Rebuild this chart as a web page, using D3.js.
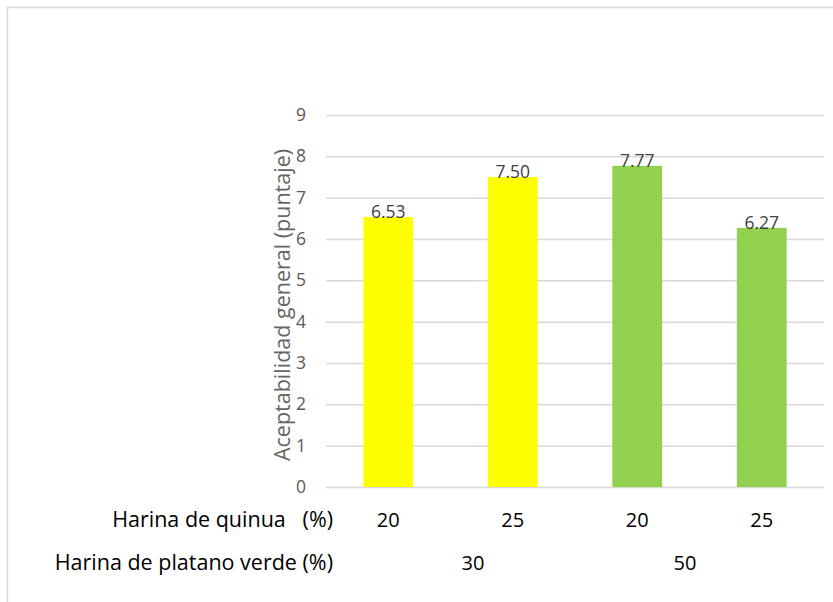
<!DOCTYPE html>
<html>
<head>
<meta charset="utf-8">
<script src="https://cdn.jsdelivr.net/npm/d3@7"></script>
<style>
  html, body { margin: 0; padding: 0; background: #ffffff; }
  svg { display: block; }
</style>
</head>
<body>
<div id="chart"></div>
<script>
// Formulation data: quinoa flour % per bar, green plantain flour % per pair
const bars = ["q20_p30", "q25_p30", "q20_p50", "q25_p50"];
const quinuaLabels = ["20", "25", "20", "25"];
const platanoGroups = ["30", "50"];
const acceptability = [6.53, 7.50, 7.77, 6.27];
const barColors = ["#FFFF00", "#FFFF00", "#92D050", "#92D050"];
const yTicks = [0, 1, 2, 3, 4, 5, 6, 7, 8, 9];

const W = 833, H = 602;
const font = "'Open Sans', sans-serif";
const svg = d3.select("#chart").append("svg")
  .attr("width", W).attr("height", H);

// Outer frame (top and left edges visible)
svg.append("path")
  .attr("d", "M7.5,602 V7.5 H833")
  .attr("fill", "none")
  .attr("stroke", "#d9d9d9")
  .attr("stroke-width", 1.5);

const plot = { left: 326, right: 824, top: 115, bottom: 487 };

const y = d3.scaleLinear().domain([0, 9]).range([plot.bottom, plot.top]);
const x = d3.scaleBand().domain(bars).range([plot.left, plot.right])
  .paddingInner(0.6).paddingOuter(0.3);

// Horizontal gridlines + tick labels
const yAxis = d3.axisLeft(y).tickValues(yTicks)
  .tickSize(-(plot.right - plot.left)).tickPadding(20).tickFormat(d3.format("d"));
const gy = svg.append("g").attr("transform", `translate(${plot.left},0)`).call(yAxis);
gy.select(".domain").remove();
gy.selectAll(".tick line").attr("stroke", "#d9d9d9").attr("stroke-width", 1.5);
gy.selectAll(".tick text")
  .attr("fill", "#595959")
  .style("font-family", font)
  .style("font-size", "17.5px");

// Bars
svg.append("g").selectAll("rect")
  .data(bars)
  .join("rect")
  .attr("x", d => x(d))
  .attr("width", x.bandwidth())
  .attr("y", (d, i) => y(acceptability[i]))
  .attr("height", (d, i) => y(0) - y(acceptability[i]))
  .attr("fill", (d, i) => barColors[i]);

// Value labels
svg.append("g").selectAll("text")
  .data(bars)
  .join("text")
  .attr("x", d => x(d) + x.bandwidth() / 2)
  .attr("y", (d, i) => y(acceptability[i]) + 1)
  .attr("text-anchor", "middle")
  .attr("fill", "#404040")
  .style("font-family", font)
  .style("font-size", "17.5px")
  .text((d, i) => acceptability[i].toFixed(2));

// Y-axis title
svg.append("text")
  .attr("transform", "translate(281,305) rotate(-90)")
  .attr("text-anchor", "middle")
  .attr("dominant-baseline", "central")
  .attr("fill", "#666666")
  .style("font-family", font)
  .style("font-size", "21.5px")
  .text("Aceptabilidad general (puntaje)");

// Row 1: quinoa flour %
svg.append("text")
  .attr("x", 333).attr("y", 527)
  .attr("text-anchor", "end")
  .attr("fill", "#000")
  .style("font-family", font).style("font-size", "21.5px")
  .style("white-space", "pre")
  .text("Harina de quinua   (%)");

svg.append("g").selectAll("text")
  .data(bars)
  .join("text")
  .attr("x", d => x(d) + x.bandwidth() / 2)
  .attr("y", 527)
  .attr("text-anchor", "middle")
  .attr("fill", "#000")
  .style("font-family", font).style("font-size", "20px")
  .text((d, i) => quinuaLabels[i]);

// Row 2: green plantain flour %
svg.append("text")
  .attr("x", 333).attr("y", 570)
  .attr("text-anchor", "end")
  .attr("fill", "#000")
  .style("font-family", font).style("font-size", "21.5px")
  .text("Harina de platano verde (%)");

const gx = d3.scalePoint().domain(platanoGroups).range([473, 685]);
svg.append("g").selectAll("text")
  .data(platanoGroups)
  .join("text")
  .attr("x", d => gx(d))
  .attr("y", 570)
  .attr("text-anchor", "middle")
  .attr("fill", "#000")
  .style("font-family", font).style("font-size", "20px")
  .text(d => d);
</script>
</body>
</html>
